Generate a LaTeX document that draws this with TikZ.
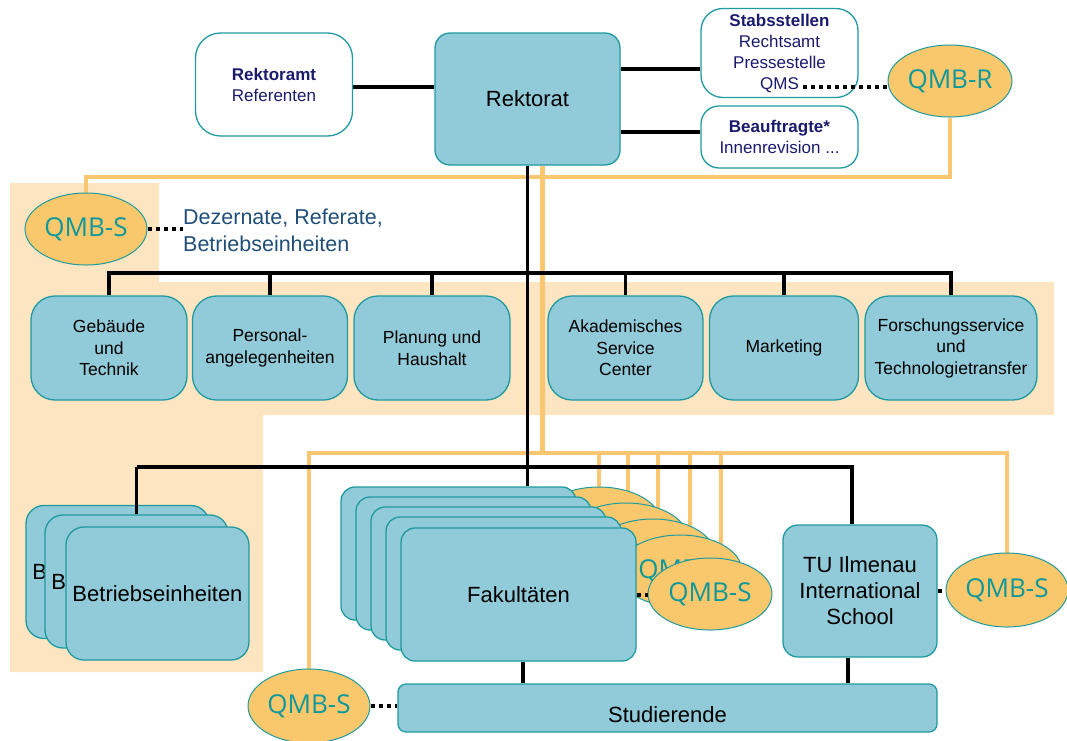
\documentclass[tikz,border=0pt]{standalone}
\usepackage{fontspec}
\setmainfont{Liberation Sans}
\newfontfamily\qmbfont{Open Sans}
\usetikzlibrary{shapes.geometric}

\definecolor{boxfill}{RGB}{145,202,216}
\definecolor{boxline}{RGB}{30,154,160}
\definecolor{qmbfill}{RGB}{249,200,108}
\definecolor{qmbline}{RGB}{250,199,112}
\definecolor{bandbg}{RGB}{252,229,192}
\definecolor{qmbtext}{RGB}{14,152,155}
\definecolor{navy}{RGB}{27,27,110}
\definecolor{dezblue}{RGB}{31,78,121}

\pgfdeclarelayer{back}
\pgfdeclarelayer{wires}
\pgfsetlayers{back,wires,main}

\begin{document}
\begin{tikzpicture}[x=1pt,y=-1pt,
  bline/.style={line width=3.2pt, black},
  qline/.style={line width=4.5pt, qmbline},
  dotline/.style={line width=4pt, black, dash pattern=on 4pt off 4pt},
  unitbox/.style={draw=boxline, line width=1.3pt, fill=boxfill, rounded corners=#1, inner sep=0pt, align=center},
  unitbox/.default=14pt,
  staffbox/.style={draw=boxline, line width=1.3pt, fill=white, rounded corners=#1, inner sep=0pt, align=center, text=navy, font=\fontsize{17}{21}\selectfont},
  staffbox/.default=20pt,
  qmb/.style={ellipse, draw=boxline, line width=1pt, fill=qmbfill, text=qmbtext, inner sep=0pt, minimum width=124pt, minimum height=72pt, font=\qmbfont\fontsize{26}{30}\selectfont},
  bandtext/.style={font=\fontsize{17.5}{21.5}\selectfont},
  bigtext/.style={font=\fontsize{22}{26}\selectfont},
]
\useasboundingbox (0,0) rectangle (1067,740);

% shaded area behind the central administration units
\begin{pgfonlayer}{back}
  \fill[bandbg] (10,183) -- (159,183) -- (159,282) -- (1054,282) -- (1054,415)
    -- (263,415) -- (263,672) -- (10,672) -- cycle;
\end{pgfonlayer}

% --- university management ---
\node[staffbox=25pt, minimum width=157pt, minimum height=103pt] (rektoramt) at (274,84.5) {\textbf{Rektoramt}\\Referenten};
\node[unitbox=15pt, minimum width=185pt, minimum height=132pt, bigtext] (rektorat) at (527.5,99) {Rektorat};
\node[staffbox=22pt, minimum width=157pt, minimum height=89pt] (stab) at (779.5,53) {\textbf{Stabsstellen}\\Rechtsamt\\Pressestelle\\QMS};
\node[staffbox=18pt, minimum width=157pt, minimum height=62pt] (beauf) at (779.5,137) {\textbf{Beauftragte*}\\Innenrevision ...};
\node[qmb] (qmbr) at (950,81) {QMB-R};
\coordinate (qmsend) at (803,87);

% --- central administration ---
\node[qmb, minimum width=122pt] (qmbsdez) at (86,229) {QMB-S};
\node[anchor=west, inner sep=0pt, text=dezblue, align=left, font=\fontsize{21.5}{27}\selectfont] (dez) at (183,230) {Dezernate, Referate,\\Betriebseinheiten};

\node[unitbox=24pt, minimum width=156pt, minimum height=104pt, bandtext] (geb)  at (109,348)   {Gebäude\\und\\Technik};
\node[unitbox=24pt, minimum width=155pt, minimum height=104pt, bandtext] (pers) at (270,348)   {Personal-\\angelegenheiten};
\node[unitbox=24pt, minimum width=156pt, minimum height=104pt, bandtext] (plan) at (432,348)   {Planung und\\Haushalt};
\node[unitbox=24pt, minimum width=155pt, minimum height=104pt, bandtext] (akad) at (625.5,348) {Akademisches\\Service\\Center};
\node[unitbox=24pt, minimum width=149pt, minimum height=104pt, bandtext] (mark) at (784,348)   {Marketing};
\node[unitbox=24pt, minimum width=172pt, minimum height=104pt, bandtext] (fts)  at (951,348)   {Forschungsservice\\und\\Technologietransfer};

% --- operating units (stacked) ---
\node[unitbox=18pt, minimum width=183pt, minimum height=133pt, bigtext] (bet1) at (117.5,572)   {Betriebseinheiten};
\node[unitbox=18pt, minimum width=183pt, minimum height=133pt, bigtext] (bet2) at (136.5,581.5) {Betriebseinheiten};
\node[unitbox=18pt, minimum width=183pt, minimum height=133pt, bigtext] (bet3) at (157.5,593.5) {Betriebseinheiten};

% --- faculties with their quality officers (stacked) ---
\node[qmb] (q0) at (599,523) {QMB-S};
\node[qmb] (q1) at (626,539) {QMB-S};
\node[qmb] (q2) at (653,555) {QMB-S};
\node[qmb] (q3) at (680,571) {QMB-S};
\node[qmb] (q4) at (710,594) {QMB-S};
\node[unitbox, minimum width=235pt, minimum height=133pt] (fak1) at (458.5,553.5) {};
\node[unitbox, minimum width=235pt, minimum height=133pt] (fak2) at (473.5,563.5) {};
\node[unitbox, minimum width=235pt, minimum height=133pt] (fak3) at (488.5,573.5) {};
\node[unitbox, minimum width=235pt, minimum height=133pt] (fak4) at (503.5,583.5) {};
\node[unitbox, minimum width=235pt, minimum height=133pt, bigtext] (fak5) at (518.5,594.5) {Fakultäten};

% --- international school ---
\node[unitbox=15pt, minimum width=154pt, minimum height=132pt, bigtext] (tu) at (860,591) {TU Ilmenau\\International\\School};
\node[qmb, minimum width=122pt, minimum height=74pt] (qmbsis) at (1007,590) {QMB-S};

% --- students (box with a fine dot raster) ---
\node[unitbox=8pt, minimum width=539pt, minimum height=48pt, bigtext,
  text height=28pt, text depth=0pt,
  path picture={\foreach \i in {0,...,53}{\foreach \j in {0,...,4}{
      \fill[white, opacity=0.65] (403+\i*10,688+\j*10) circle (0.8pt);}}}]
  (stud) at (667.5,708) {Studierende};
\node[qmb, minimum width=122pt, minimum height=74pt] (qmbsstud) at (309,706) {QMB-S};

% rails of the organisation tree
\coordinate (obus1) at (0,177);
\coordinate (obus2) at (0,453);
\coordinate (bbus1) at (0,273);
\coordinate (bbus2) at (0,467);

\begin{pgfonlayer}{wires}
  % quality management rails
  \draw[qline] (qmbr.south) -- (qmbr.south |- obus1) -| (qmbsdez.north);
  \coordinate (qdown) at ([xshift=15pt]rektorat.south);
  \draw[qline] (qdown) -- (qdown |- obus2);
  \draw[qline] (qmbsstud.north) -- (qmbsstud.north |- obus2) -| (qmbsis.north);
  \draw[qline] (q0.center) -- (q0.center |- obus2);
  \draw[qline] ([xshift=2pt]q1.center) -- ([xshift=2pt]q1.center |- obus2);
  \draw[qline] ([xshift=5pt]q2.center) -- ([xshift=5pt]q2.center |- obus2);
  \draw[qline] ([xshift=10pt]q3.center) -- ([xshift=10pt]q3.center |- obus2);
  \draw[qline] ([xshift=11pt]q4.center) -- ([xshift=11pt]q4.center |- obus2);

  % line organisation
  \coordinate (ra) at ([yshift=-2.5pt]rektoramt.east);
  \draw[bline] (ra) -- (ra -| rektorat.west);
  \coordinate (sa) at ([yshift=-16pt]stab.west);
  \draw[bline] (sa) -- (sa -| rektorat.east);
  \coordinate (ba) at ([yshift=5pt]beauf.west);
  \draw[bline] (ba) -- (ba -| rektorat.east);
  \draw[bline] (rektorat.south) -- (rektorat.south |- fak1.north);
  \draw[bline] (geb.north) -- (geb.north |- bbus1) -- (fts.north |- bbus1) -- (fts.north);
  \foreach \u in {pers,plan,akad,mark}
    \draw[bline] (\u.north) -- (\u.north |- bbus1);
  \coordinate (tutop) at ([xshift=-8pt]tu.north);
  \draw[bline] (bet2.north |- bbus2) -- (tutop |- bbus2) -- (tutop);
  \coordinate (fakbot) at ([xshift=4.5pt]fak5.south);
  \draw[bline] (fakbot) -- (fakbot |- stud.north);
  \coordinate (tubot) at ([xshift=-12pt]tu.south);
  \draw[bline] (tubot) -- (tubot |- stud.north);
\end{pgfonlayer}

\draw[bline] (bet2.north) -- (bet2.north |- bbus2);

% dotted links to the quality officers
\draw[dotline] (qmsend) -- (qmsend -| qmbr.west);
\draw[dotline] (qmbsdez.east) -- (qmbsdez.east -| dez.west);
\draw[dotline] (fak5.east) -- (fak5.east -| q4.west);
\draw[dotline] (tu.east) -- (tu.east -| qmbsis.west);
\draw[dotline] (qmbsstud.east) -- (qmbsstud.east -| stud.west);
\end{tikzpicture}
\end{document}
